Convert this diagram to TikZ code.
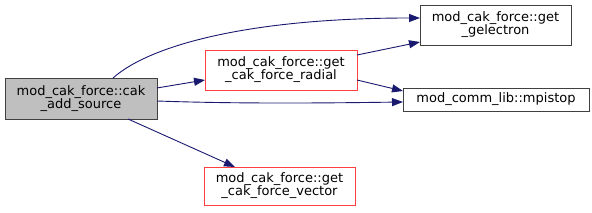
\documentclass[tikz,border=0pt]{standalone}
\usepackage{fontspec}
\setmainfont{DejaVu Sans}
\usepackage{xcolor}
\usetikzlibrary{arrows.meta}

\definecolor{edgeblue}{HTML}{191970}
\definecolor{boxred}{HTML}{FF4040}
\definecolor{boxgray}{HTML}{404040}

\tikzset{
  fn/.style={draw=boxgray, line width=0.9pt, inner sep=0pt, outer sep=0pt,
    align=center, font=\fontsize{13}{13}\selectfont},
  fnred/.style={fn, draw=boxred},
  call/.style={draw=edgeblue, line width=0.9pt,
    -{Triangle[length=11pt,width=8pt,fill=edgeblue]}}
}

\begin{document}
\begin{tikzpicture}[x=1pt,y=-1pt]

\useasboundingbox (0,0) rectangle (592,213);

\node[fn, fill=black!25, minimum width=152pt, minimum height=41pt] (src) at (81,98.5)
  {mod\_cak\_force::cak\\\_add\_source};
\node[fnred, minimum width=152pt, minimum height=40pt] (radial) at (281,70)
  {mod\_cak\_force::get\\\_cak\_force\_radial};
\node[fn, minimum width=151pt, minimum height=40pt] (gelec) at (495.5,25)
  {mod\_cak\_force::get\\\_gelectron};
\node[fn, minimum width=186pt, minimum height=23pt] (mpistop) at (496,99.5)
  {mod\_comm\_lib::mpistop};
\node[fnred, minimum width=151pt, minimum height=38pt] (vector) at (279.5,186)
  {mod\_cak\_force::get\\\_cak\_force\_vector};

% calls from cak_add_source
\draw[call] ([xshift=32pt]src.north) .. controls (150,45) and (250,18) .. ([yshift=7pt]gelec.west);
\draw[call] ([yshift=10.5pt]src.east) -- ([yshift=-10pt]radial.west);
\draw[call] ([yshift=-2.5pt]src.east) .. controls (240,104) and (330,103) .. ([yshift=-2.5pt]mpistop.west);
\draw[call] ([xshift=47pt]src.south) -- ([xshift=-44.5pt]vector.north);

% calls from get_cak_force_radial
\draw[call] ([yshift=15pt]radial.east) -- ([yshift=-17pt]gelec.west);
\draw[call] ([yshift=-10pt]radial.east) -- ([yshift=8.5pt]mpistop.west);

\end{tikzpicture}
\end{document}
